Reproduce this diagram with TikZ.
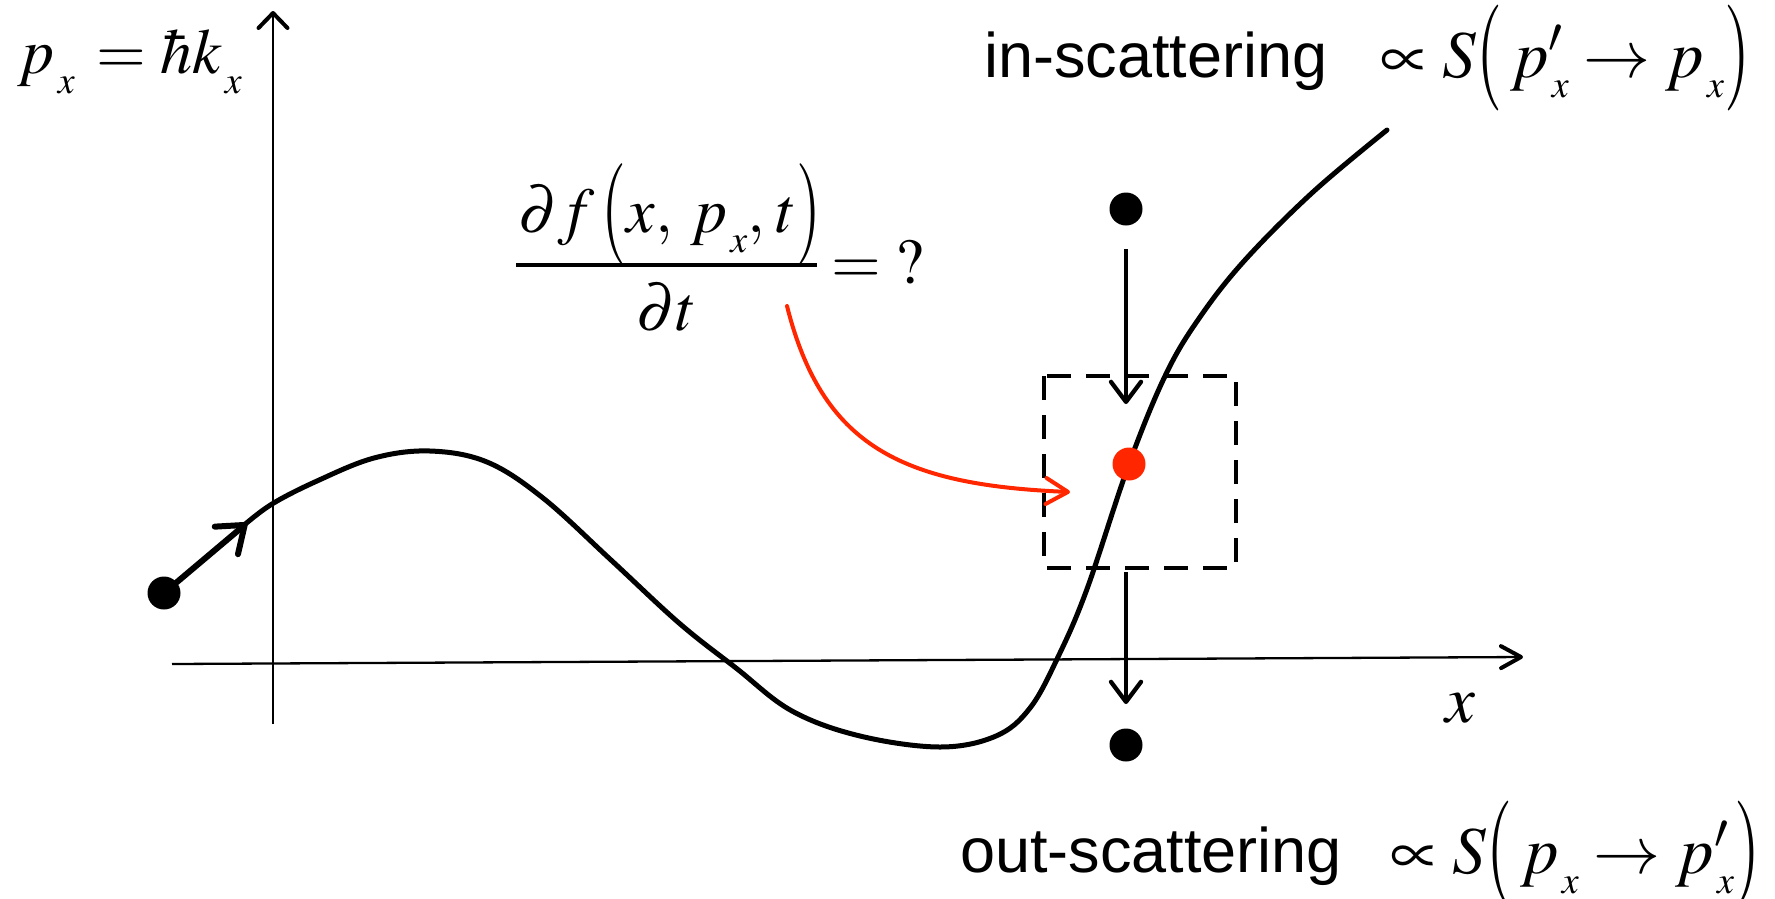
\documentclass[tikz,border=0pt]{standalone}
\usepackage{mathptmx}
\usepackage{graphicx}
\usepackage[no-math]{fontspec}
\setmainfont{Liberation Serif}
\newfontfamily\arialf{Liberation Sans}
\usetikzlibrary{arrows.meta}
\definecolor{redc}{RGB}{255,38,0}
\newcommand\mfont{\fontsize{64}{70}\selectfont}
\newcommand\bfont{\fontsize{67}{70}\selectfont}
\newcommand\sfont{\arialf\fontsize{63}{70}\selectfont}
\newcommand\mx{\kern3pt\lower20pt\hbox{\fontsize{38}{38}\selectfont$x$}}
\newcommand\mpr{\rlap{$^{\prime}$}}
\newcommand\lpar{\lower0.11em\hbox{\scalebox{1}[1.58]{$($}}}
\newcommand\rpar{\lower0.11em\hbox{\scalebox{1}[1.58]{$)$}}}
\tikzset{
  axis/.style={line width=2.3pt},
  curve/.style={line width=5pt, line cap=round},
  dot/.style={circle, fill=black, inner sep=0pt, minimum size=33pt},
  rdot/.style={circle, fill=redc, inner sep=0pt, minimum size=33pt},
  darrow/.style={line width=4.3pt, -{Straight Barb[length=20pt,width=30pt,line width=4.3pt,round]}},
  dbox/.style={line width=4.5pt, dash pattern=on 24pt off 15pt},
  mtext/.style={inner sep=0pt, font=\mfont},
  btext/.style={inner sep=0pt, font=\bfont},
  stext/.style={inner sep=0pt, font=\sfont},
}
\begin{document}
\begin{tikzpicture}[x=1pt,y=-1pt]
\useasboundingbox (0,0) rectangle (1775,898);
% axes
\coordinate (yb) at (273,724);
\coordinate (yt) at (273,11);
\coordinate (xl) at (172,664);
\coordinate (xr) at (1523,657);
\draw[axis, -{Straight Barb[length=15pt,width=29pt,line width=4pt,round]}] (yb) -- (yt);
\draw[axis, -{Straight Barb[length=20pt,width=22pt,line width=4pt,round]}] (xl) -- (xr);
\node[btext, anchor=base] (xlab) at (1460,722) {$x$};
\node[mtext, anchor=base west] (plab) at (18,73) {$p\mx\mkern2mu=\hbar k\mx$};
% curve
\draw[curve] plot[smooth, tension=0.6] coordinates {
 (243,526) (272,504) (317,481) (374,458) (430,451) (487,462) (543,498)
 (611,560) (679,623) (736,668) (792,711) (860,736) (940,747) (996,736)
 (1030,708) (1058,657) (1087,589) (1129,464) (1166,374) (1200,317)
 (1245,260) (1313,192) (1387,130)};
% left particle
\node[dot] (p0) at (164,593) {};
\coordinate (p0tip) at (247,523);
\draw[line width=6pt, line cap=round, -{Straight Barb[length=24pt,width=36pt,line width=6pt,round]}] (p0.center) -- (p0tip);
% dashed box
\draw[dbox] (1044,376) rectangle (1236,568);
% dots
\node[dot] (top) at (1126,209) {};
\node[dot] (bot) at (1126,745) {};
\node[rdot] (red) at (1129,464) {};
\coordinate (a1s) at (1126,249);
\coordinate (a1e) at (1126,404);
\coordinate (a2s) at (1126,572);
\coordinate (a2e) at (1126,704);
\draw[darrow] (a1s) -- (a1e);
\draw[darrow] (a2s) -- (a2e);
% fraction
\node[mtext, anchor=base west] (num) at (518,232) {$\partial f\mkern2mu\lpar x,\mkern3mu p\mx,\mkern1mu t\rpar$};
\coordinate (barl) at (516,265);
\coordinate (barr) at (817,265);
\draw[line width=3.6pt] (barl) -- (barr);
\node[mtext, anchor=base] (den) at (667,330) {$\partial t$};
\node[mtext, anchor=base west] (eq) at (831,283) {$=\mkern4mu ?$};
\coordinate (rs) at (787,306);
\coordinate (re) at (1070,492);
\draw[redc, line width=4pt, line cap=round, -{Straight Barb[length=22pt,width=26pt,line width=4pt,round]}] (rs) .. controls (822,445) and (900,485) .. (re);
% labels
\node[stext, anchor=base west] (inl) at (984,77) {in-scattering};
\node[btext, anchor=base west] (ins) at (1380,77) {$\propto S\lpar\mkern2mu p\mpr\mx\to p\mx\rpar$};
\node[stext, anchor=base west] (outl) at (960,872) {out-scattering};
\node[btext, anchor=base west] (outs) at (1390,873) {$\propto S\lpar\mkern2mu p\mx\to p\mpr\mx\rpar$};
\end{tikzpicture}
\end{document}
